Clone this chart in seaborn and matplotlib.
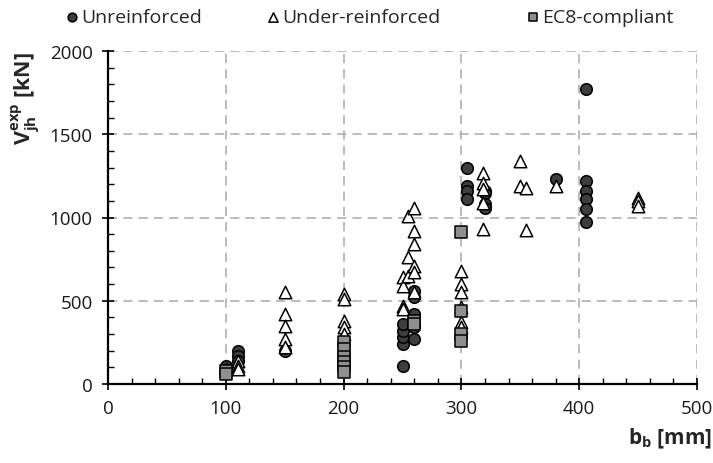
import matplotlib
matplotlib.use("Agg")
import matplotlib.pyplot as plt
from matplotlib.ticker import MultipleLocator
import pandas as pd
import seaborn as sns

# Beam width b_b [mm] and experimental joint shear strength V_jh [kN]
unreinf_b = [100, 110, 110, 110, 150,
             250, 250, 250, 250, 250,
             260, 260, 260, 260, 260, 260,
             305, 305, 305, 305,
             320, 320, 320, 320,
             380,
             406, 406, 406, 406, 406, 406]
unreinf_v = [110, 200, 170, 140, 200,
             110, 240, 280, 320, 360,
             270, 340, 400, 420, 520, 560,
             1300, 1190, 1160, 1110,
             1160, 1150, 1080, 1060,
             1230,
             1770, 1220, 1160, 1110, 1050, 970]

under_b = [100, 110, 110, 110,
           150, 150, 150, 150, 150,
           200, 200, 200, 200, 200,
           250, 250, 250, 250,
           255, 255, 255,
           260, 260, 260, 260, 260, 260,
           300, 300, 300, 300, 300, 300,
           318, 318, 318, 318, 318,
           350, 350, 355, 355,
           380,
           450, 450, 450]
under_v = [90, 140, 110, 90,
           550, 420, 350, 270, 220,
           540, 510, 380, 340, 300,
           640, 590, 470, 450,
           1010, 760, 650,
           1060, 920, 840, 710, 670, 550,
           680, 600, 550, 460, 370, 340,
           1270, 1210, 1170, 1090, 930,
           1340, 1190, 1180, 925,
           1190,
           1120, 1100, 1070]

ec8_b = [100, 100,
         200, 200, 200, 200, 200, 200,
         260, 260,
         300, 300, 300, 300]
ec8_v = [80, 60,
         250, 210, 160, 130, 100, 70,
         380, 360,
         910, 440, 300, 260]

groups = ["Unreinforced", "Under-reinforced", "EC8-compliant"]

df = pd.concat([
    pd.DataFrame({"b": unreinf_b, "V": unreinf_v, "type": groups[0]}),
    pd.DataFrame({"b": under_b, "V": under_v, "type": groups[1]}),
    pd.DataFrame({"b": ec8_b, "V": ec8_v, "type": groups[2]}),
], ignore_index=True)

sns.set_theme(style="white")
plt.rcParams["font.family"] = ["Open Sans", "DejaVu Sans"]
plt.rcParams["mathtext.fontset"] = "custom"
plt.rcParams["mathtext.rm"] = "Open Sans"
plt.rcParams["mathtext.bf"] = "Open Sans:bold"

fig = plt.figure(figsize=(7.13, 4.64), dpi=100)
ax = fig.add_axes([108 / 713, 1 - 385 / 464, 589 / 713, 333 / 464])

styles = {
    groups[0]: dict(marker="o", color="#3d3d3d", s=70),
    groups[1]: dict(marker="^", color="white", s=80),
    groups[2]: dict(marker="s", color="#8f8f8f", s=70),
}
for g in groups:
    st = styles[g]
    sns.scatterplot(data=df[df["type"] == g], x="b", y="V", ax=ax,
                    marker=st["marker"], color=st["color"], s=st["s"],
                    edgecolor="black", linewidth=1.1, label=g, zorder=3)

ax.set_xlim(0, 500)
ax.set_ylim(0, 2000)
ax.xaxis.set_major_locator(MultipleLocator(100))
ax.xaxis.set_minor_locator(MultipleLocator(20))
ax.yaxis.set_major_locator(MultipleLocator(500))
ax.yaxis.set_minor_locator(MultipleLocator(100))

ax.grid(True, which="major", color="#a8a8a8", linestyle=(0, (6, 4)), linewidth=1.1)
ax.set_axisbelow(True)

for side in ("top", "right"):
    ax.spines[side].set_visible(False)
for side in ("left", "bottom"):
    ax.spines[side].set_color("black")
    ax.spines[side].set_linewidth(1.6)

ax.tick_params(which="major", direction="inout", length=8, width=1.2,
               colors="black", labelsize=13.5, labelcolor="#1a1a1a",
               left=True, bottom=True, pad=7)
ax.tick_params(which="minor", direction="in", length=4, width=1.0,
               colors="black", left=True, bottom=True)

ax.set_xlabel(r"b$_\mathbf{b}$ [mm]", fontsize=15, fontweight="bold", loc="right")
ax.xaxis.set_label_coords((712 - 108) / 589, (385 - 427) / 333)
ax.set_ylabel(r"V$_\mathbf{jh}^\mathbf{exp}$ [kN]", fontsize=15.5, fontweight="bold", loc="top")
ax.yaxis.set_label_coords((42 - 108) / 589, 1.0)

# One legend entry per group, laid out across the top of the figure
handles, labels = ax.get_legend_handles_labels()
ax.legend_.remove()
for h, lab, x0 in zip(handles, labels, (66, 267, 527)):
    fig.legend([h], [lab], loc="center left", bbox_to_anchor=(x0 / 713, 1 - 18 / 464),
               frameon=False, fontsize=14, markerscale=0.75,
               handlelength=0.6, handletextpad=0.2, borderpad=0, borderaxespad=0)

fig.savefig("out.png", dpi=100)
